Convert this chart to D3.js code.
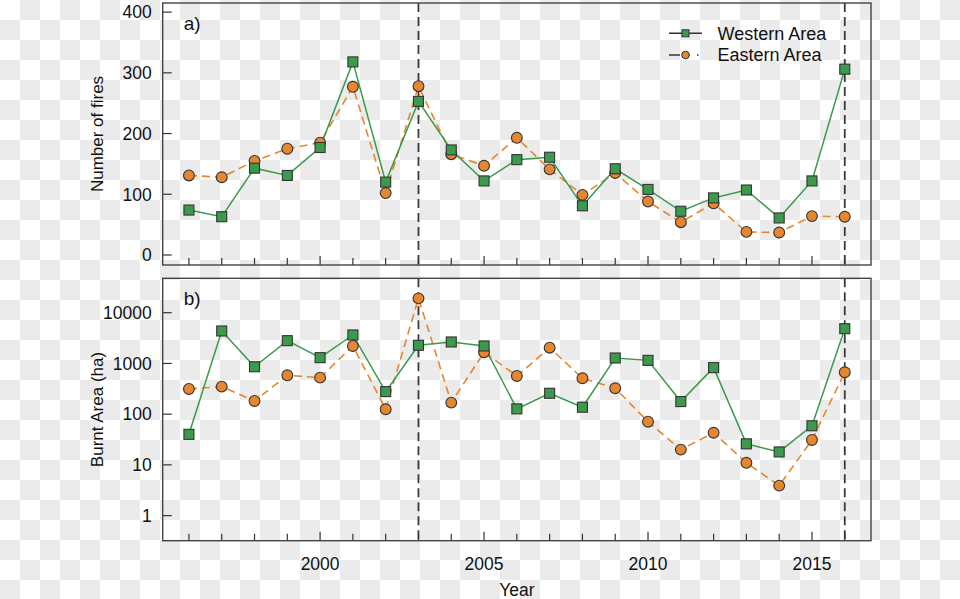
<!DOCTYPE html>
<html><head><meta charset="utf-8">
<script src="https://cdn.jsdelivr.net/npm/d3@7/dist/d3.min.js"></script>
<style>body{margin:0;background:#fff}svg{display:block}text{font-family:"Liberation Sans",Arial,sans-serif;fill:#111}</style>
</head><body>
<script>
const years = d3.range(1996, 2017);
const firesWestern = [74,63,143,131,177,318,120,253,173,122,157,161,81,142,108,72,94,107,61,122,306];
const firesEastern = [131,128,155,175,185,277,102,278,166,147,193,141,99,135,88,54,85,38,37,64,63];
const areaWestern = [40,4360,860,2810,1300,3640,278,2280,2650,2210,127,258,137,1280,1150,177,826,26,18,59,4840];
const areaEastern = [314,349,182,584,525,2210,125,19200,169,1660,566,2045,510,324,71,20,43,11,3.9,31,670];
const firesTicks = [0,100,200,300,400];
const areaTicks = [1,10,100,1000,10000];
const yearLabels = [2000,2005,2010,2015];
const markedYears = [2003,2016];
const seriesNames = ["Western Area","Eastern Area"];

const W=960,H=599;
const green="#3b9a4b", orange="#e6862e", dark="#333";
const svg=d3.select("body").append("svg").attr("width",W).attr("height",H);
const defs=svg.append("defs");
const pat=defs.append("pattern").attr("id","cb").attr("width",40).attr("height",40).attr("patternUnits","userSpaceOnUse");
pat.append("rect").attr("width",40).attr("height",40).attr("fill","#fff");
pat.append("rect").attr("x",20).attr("y",0).attr("width",20).attr("height",20).attr("fill","#ebebeb");
pat.append("rect").attr("x",0).attr("y",20).attr("width",20).attr("height",20).attr("fill","#ebebeb");
svg.append("rect").attr("width",W).attr("height",H).attr("fill","url(#cb)");

const L=162.7,R=871;
const x=d3.scaleLinear().domain([1995.2,2016.8]).range([L,R]);
const yTop=d3.scaleLinear().domain([-16.5,415]).range([265,3]);
const yBot=d3.scaleLog().domain([0.32,47700]).range([540.7,278.3]);

function panel(y, top, bottom, ticks, wData, eData, label, fmt){
  const g=svg.append("g");
  ticks.forEach(t=>{
    g.append("line").attr("x1",L).attr("x2",L+9).attr("y1",y(t)).attr("y2",y(t)).attr("stroke",dark).attr("stroke-width",1.2);
    g.append("text").attr("x",L-11).attr("y",y(t)).attr("dy","0.36em").attr("text-anchor","end").attr("font-size",17.5).text(fmt(t));
  });
  years.forEach(yr=>{
    const len = yr%5===0?9:7;
    g.append("line").attr("x1",x(yr)).attr("x2",x(yr)).attr("y1",bottom).attr("y2",bottom-len).attr("stroke",dark).attr("stroke-width",1.2);
  });
  markedYears.forEach(yr=>{
    g.append("line").attr("x1",x(yr)).attr("x2",x(yr)).attr("y1",top).attr("y2",bottom)
      .attr("stroke","#3a3a3a").attr("stroke-width",1.8).attr("stroke-dasharray","9,5");
  });
  const line=d3.line().x((d,i)=>x(years[i])).y(d=>y(d));
  g.append("path").datum(eData).attr("d",line).attr("fill","none").attr("stroke",orange).attr("stroke-width",1.6).attr("stroke-dasharray","8,5");
  g.append("path").datum(wData).attr("d",line).attr("fill","none").attr("stroke",green).attr("stroke-width",1.5);
  g.selectAll(".e").data(eData).enter().append("circle").attr("cx",(d,i)=>x(years[i])).attr("cy",d=>y(d)).attr("r",5.4)
    .attr("fill",orange).attr("stroke",dark).attr("stroke-width",1.1);
  g.selectAll(".w").data(wData).enter().append("rect").attr("x",(d,i)=>x(years[i])-5).attr("y",d=>y(d)-5).attr("width",10).attr("height",10)
    .attr("fill",green).attr("stroke",dark).attr("stroke-width",1.1);
  g.append("rect").attr("x",L).attr("y",top).attr("width",R-L).attr("height",bottom-top).attr("fill","none").attr("stroke","#444").attr("stroke-width",1.4);
  g.append("text").attr("x",L+21).attr("y",top+27).attr("font-size",19).text(label);
}
panel(yTop,3,265,firesTicks,firesWestern,firesEastern,"a)",d3.format("d"));
panel(yBot,278.3,540.7,areaTicks,areaWestern,areaEastern,"b)",d3.format("d"));

yearLabels.forEach(yr=>{
  svg.append("text").attr("x",x(yr)).attr("y",569.5).attr("text-anchor","middle").attr("font-size",17.5).text(yr);
});
svg.append("text").attr("x",(L+R)/2).attr("y",596).attr("text-anchor","middle").attr("font-size",17.5).text("Year");
svg.append("text").attr("transform","translate(103,134) rotate(-90)").attr("text-anchor","middle").attr("font-size",17).text("Number of fires");
svg.append("text").attr("transform","translate(103,409.5) rotate(-90)").attr("text-anchor","middle").attr("font-size",17).text("Burnt Area (ha)");

const lg=svg.append("g");
[[33.3,green,null,"rect"],[55,orange,"11,5,5,7,1.5,10","circle"]].forEach((s,i)=>{
  const yy=s[0];
  lg.append("line").attr("x1",669).attr("x2",702).attr("y1",yy).attr("y2",yy).attr("stroke",dark).attr("stroke-width",1.4).attr("stroke-dasharray",s[2]);
  if(s[3]==="rect") lg.append("rect").attr("x",682).attr("y",yy-3.5).attr("width",7).attr("height",7).attr("fill",s[1]).attr("stroke",dark).attr("stroke-width",1);
  else lg.append("circle").attr("cx",685.5).attr("cy",yy).attr("r",3.8).attr("fill",s[1]).attr("stroke",dark).attr("stroke-width",1);
  lg.append("text").attr("x",717.5).attr("y",yy).attr("dy","0.36em").attr("font-size",18).text(seriesNames[i]);
});
</script>
</body></html>
